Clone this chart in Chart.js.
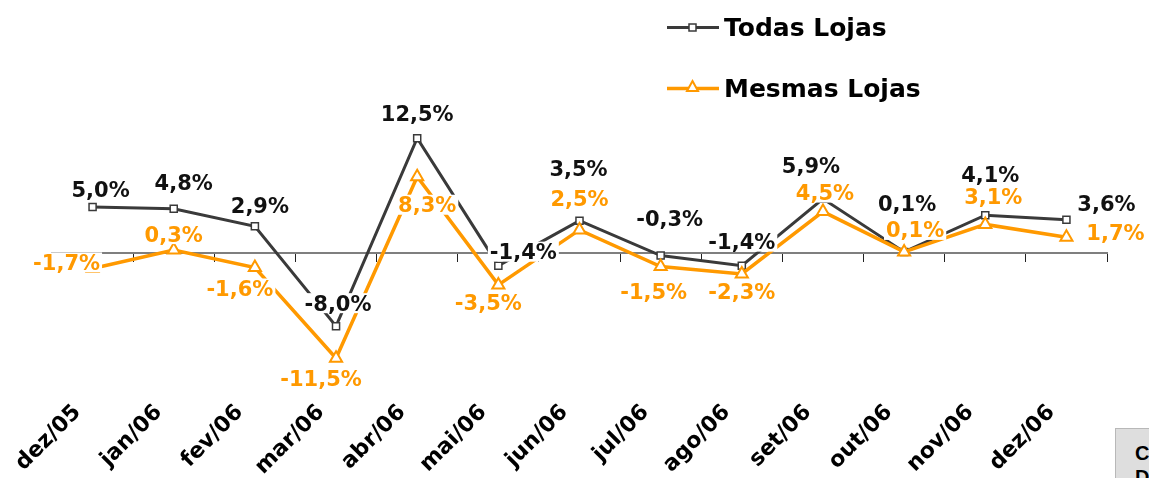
<!DOCTYPE html>
<html lang="pt-BR">
<head>
<meta charset="utf-8">
<title>Todas Lojas x Mesmas Lojas</title>
<script src="https://cdn.jsdelivr.net/npm/chart.js@4.4.1/dist/chart.umd.min.js"></script>
<style>
    html, body { margin: 0; padding: 0; background: #fff; overflow: hidden; }
    #wrap { position: relative; width: 1149px; height: 478px; }
    #legend { position: absolute; left: 667px; top: 0; font: bold 25px "DejaVu Sans", Verdana, sans-serif; color: #000; }
    .lg-item { position: absolute; left: 0; display: flex; align-items: center; height: 34px; white-space: nowrap; }
    .lg-item svg { margin-right: 5px; }
    #note { position: absolute; left: 1115px; top: 428px; width: 80px; height: 70px; background: #dedede;
            border: 1px solid #b8b8b8; font: bold 20px "Liberation Sans", Arial, sans-serif; color: #000;
            padding: 12px 0 0 19px; line-height: 24px; box-sizing: border-box; }
</style>
</head>
<body>
<div id="wrap">
    <canvas id="chart"></canvas>
    <div id="legend"></div>
    <div id="note">C<br>D</div>
</div>
<script>
// ===== Vendas: Todas Lojas x Mesmas Lojas =====
const months = ['dez/05', 'jan/06', 'fev/06', 'mar/06', 'abr/06', 'mai/06', 'jun/06',
                'jul/06', 'ago/06', 'set/06', 'out/06', 'nov/06', 'dez/06'];
const todasLojas = [5.0, 4.8, 2.9, -8.0, 12.5, -1.4, 3.5, -0.3, -1.4, 5.9, 0.1, 4.1, 3.6];
const mesmasLojas = [-1.7, 0.3, -1.6, -11.5, 8.3, -3.5, 2.5, -1.5, -2.3, 4.5, 0.1, 3.1, 1.7];

// label nudges (px, relative to the point)
const todasShift = [[8, -17], [10, -26], [5, -21], [2, -23], [0, -25], [25, -14], [-1, -52],
                    [9, -37], [0, -24], [-12, -33], [3, -48], [5, -41], [40, -16]];
const mesmasShift = [[-26, -6], [0, -16], [-15, 21], [-15, 20], [10, 28], [-10, 18], [0, -31],
                     [-7, 25], [0, 18], [2, -19], [11, -22], [8, -28], [49, -5]];

const DARK = '#3a3a3a';
const ORANGE = '#ff9900';
const FONT = '"DejaVu Sans", Verdana, sans-serif';

const fmtPct = v => v.toFixed(1).replace('.', ',') + '%';

// data labels with white box, drawn over the lines
const pctLabels = {
    id: 'pctLabels',
    afterDatasetsDraw(chart) {
        const ctx = chart.ctx;
        ctx.save();
        ctx.font = `bold 21px ${FONT}`;
        ctx.textAlign = 'center';
        ctx.textBaseline = 'alphabetic';
        chart.data.datasets.forEach((ds, di) => {
            const meta = chart.getDatasetMeta(di);
            meta.data.forEach((pt, i) => {
                const txt = fmtPct(ds.data[i]);
                const [dx, dy] = ds.labelShift[i];
                const x = pt.x + dx, y = pt.y + dy;
                const w = ctx.measureText(txt).width;
                ctx.fillStyle = '#fff';
                ctx.fillRect(x - w / 2 - 2, y - 10, w + 4, 20);
                ctx.fillStyle = ds.labelColor;
                ctx.fillText(txt, x, y + 7.5);
            });
        });
        ctx.restore();
    }
};

const chart = new Chart(document.getElementById('chart'), {
    type: 'line',
    data: {
        labels: months,
        datasets: [{
            label: 'Todas Lojas',
            data: todasLojas,
            labelShift: todasShift,
            labelColor: '#111',
            borderColor: DARK,
            borderWidth: 3,
            pointStyle: 'rect',
            pointRadius: 5,
            pointBorderWidth: 1.5,
            pointBorderColor: DARK,
            pointBackgroundColor: '#fff',
            tension: 0,
            order: 2
        }, {
            label: 'Mesmas Lojas',
            data: mesmasLojas,
            labelShift: mesmasShift,
            labelColor: ORANGE,
            borderColor: ORANGE,
            borderWidth: 3.5,
            pointStyle: 'triangle',
            pointRadius: 7,
            pointBorderWidth: 2,
            pointBorderColor: ORANGE,
            pointBackgroundColor: '#fff',
            tension: 0,
            order: 1
        }]
    },
    options: {
        responsive: true,
        maintainAspectRatio: false,
        animation: false,
        layout: { padding: { left: 52, right: 42, top: 100, bottom: -12 } },
        plugins: {
            legend: { display: false },
            tooltip: { enabled: false }
        },
        scales: {
            x: {
                type: 'category',
                offset: true,
                position: { y: 0 },
                grid: { display: true, drawOnChartArea: false, drawTicks: true, tickLength: 8, tickColor: '#222', tickWidth: 1, offset: true },
                border: { display: true, color: '#7f7f7f', width: 2 },
                ticks: { display: false }
            },
            x2: {
                type: 'category',
                labels: months,
                offset: true,
                position: 'bottom',
                grid: { display: false, drawTicks: false },
                border: { display: false },
                ticks: {
                    autoSkip: false, maxRotation: 45, minRotation: 45, labelOffset: -15, padding: 10,
                    color: '#000', font: { family: FONT, size: 22, weight: 'bold' }
                }
            },
            y: {
                display: false,
                min: -14.92,
                max: 16.67
            }
        }
    },
    plugins: [pctLabels]
});

// legend, stacked like the original
const legend = document.getElementById('legend');
const legendRows = [
    { text: 'Todas Lojas', top: 10, marker: `<rect x="22" y="7" width="7" height="7" fill="#fff" stroke="${DARK}" stroke-width="1.5"/>`, color: DARK, w: 3 },
    { text: 'Mesmas Lojas', top: 71, marker: `<polygon points="25.5,3 31,13 20,13" fill="#fff" stroke="${ORANGE}" stroke-width="2"/>`, color: ORANGE, w: 3.5 }
];
legend.innerHTML = legendRows.map(r =>
    `<div class="lg-item" style="top:${r.top}px">
        <svg width="52" height="20"><line x1="0" y1="10.5" x2="52" y2="10.5" stroke="${r.color}" stroke-width="${r.w}"/>${r.marker}</svg>
        <span>${r.text}</span>
    </div>`
).join('');
</script>
</body>
</html>
